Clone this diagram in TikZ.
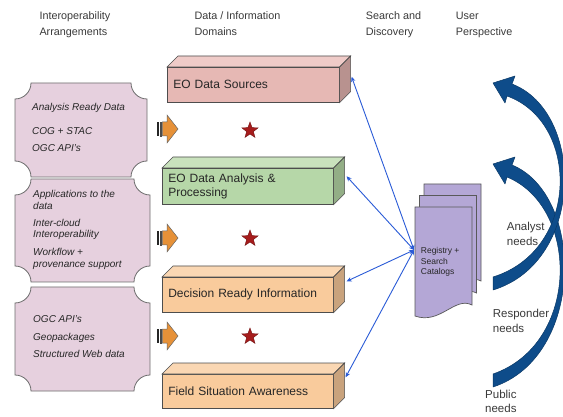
\documentclass[tikz,border=0pt]{standalone}
\usepackage{fontspec}
\setmainfont{Liberation Sans}
\usetikzlibrary{arrows.meta,shapes.geometric,calc}
\definecolor{edge}{HTML}{4D4D4D}
\definecolor{plaquefill}{HTML}{E6D0DE}
\definecolor{plaqueedge}{HTML}{6E6E6E}
\definecolor{pinkF}{HTML}{E6B8B4}
\definecolor{pinkT}{HTML}{EFCBC8}
\definecolor{pinkS}{HTML}{B8928F}
\definecolor{greenF}{HTML}{B6D7A8}
\definecolor{greenT}{HTML}{C9E2BD}
\definecolor{greenS}{HTML}{93AE86}
\definecolor{peachF}{HTML}{F9CB9C}
\definecolor{peachT}{HTML}{FAD7B3}
\definecolor{peachS}{HTML}{C9A37D}
\definecolor{orangeA}{HTML}{E69138}
\definecolor{starred}{HTML}{A61C1C}
\definecolor{docfill}{HTML}{B4A7D6}
\definecolor{conn}{HTML}{2A5BD7}
\definecolor{navy}{HTML}{0E4C8A}
\definecolor{txt}{HTML}{3A3A3A}
\newcommand\plaque[4]{%
 \filldraw[plq] ({#1+16},#2) -- ({#3-16},#2)
  .. controls ({#3-16},{#2+8.8}) and ({#3-8.8},{#2+16}) .. (#3,{#2+16})
  -- (#3,{#4-16})
  .. controls ({#3-8.8},{#4-16}) and ({#3-16},{#4-8.8}) .. ({#3-16},#4)
  -- ({#1+16},#4)
  .. controls ({#1+16},{#4-8.8}) and ({#1+8.8},{#4-16}) .. (#1,{#4-16})
  -- (#1,{#2+16})
  .. controls ({#1+8.8},{#2+16}) and ({#1+16},{#2+8.8}) .. ({#1+16},#2) -- cycle;}
\newcommand\cubefaces[3]{%
 \filldraw[draw=edge, line width=0.6pt, fill=#2] (#1.north west) -- ++(11,-11) -- ($(#1.north east)+(11,-11)$) -- (#1.north east) -- cycle;
 \filldraw[draw=edge, line width=0.6pt, fill=#3] (#1.north east) -- ++(11,-11) -- ($(#1.south east)+(11,-11)$) -- (#1.south east) -- cycle;}
\newcommand\docshape[4]{%
 \filldraw[docst] (#1,#2) -- (#3,#2) -- (#3,#4) .. controls ({#3-17},{#4-9}) and ({#1+25},{#4+20}) .. (#1,{#4+11}) -- cycle;}
\tikzset{
 hdr/.style={anchor=west, align=left, inner sep=0pt, text=txt, font=\fontsize{10.8}{16}\selectfont},
 plq/.style={fill=plaquefill, draw=plaqueedge, line width=0.8pt},
 plqtext/.style={anchor=west, align=left, inner sep=0pt, text=black!85, font=\fontsize{10}{17.4}\selectfont\itshape},
 plqtight/.style={plqtext, font=\fontsize{10}{11.5}\selectfont\itshape},
 dbox/.style={draw=edge, line width=0.6pt, inner xsep=6pt, inner ysep=0pt, align=left, anchor=north west, text=black!85, font=\fontsize{12}{14.2}\selectfont},
 docst/.style={fill=docfill, draw=black!65, line width=0.7pt},
 connline/.style={draw=conn, line width=0.9pt, {Stealth[length=5pt,width=4.5pt]}-{Stealth[length=5pt,width=4.5pt]}},
 redstar/.style={star, star points=5, star point ratio=2.4, fill=starred, draw=starred!70!black, line width=0.4pt, minimum size=17pt, inner sep=0pt},
 crescent/.style={fill=navy, draw=navy!75!black, line width=0.5pt, line join=round},
 needlabel/.style={anchor=west, align=left, inner sep=0pt, text=txt, font=\fontsize{11.5}{15}\selectfont},
 stripearrow/.pic={
  \fill[black!85] (0,-7) rectangle (2.2,7);
  \filldraw[fill=orangeA, draw=black!70, line width=0.4pt] (3,-7) rectangle (4.6,7);
  \filldraw[fill=orangeA, draw=black!60, line width=0.5pt] (5.4,-7) -- (10,-7) -- (10,-14) -- (21,0) -- (10,14) -- (10,7) -- (5.4,7) -- cycle;
 }
}
\begin{document}
\begin{tikzpicture}[x=1pt,y=-1pt]
\useasboundingbox (0,0) rectangle (563,417);
\clip (0,0) rectangle (563,417);
\fill[white] (0,0) rectangle (563,417);

% headers
\node[hdr] (hA) at (39.3,24.7) {Interoperability\\Arrangements};
\node[hdr] (hB) at (194.3,24) {Data / Information\\Domains};
\node[hdr] (hC) at (365.7,24.7) {Search and\\Discovery};
\node[hdr] (hD) at (455.7,24.7) {User\\Perspective};

% left plaques
\plaque{15}{83}{147}{177}
\plaque{15}{179}{150}{282}
\plaque{15}{287}{150}{391}
\node[plqtext] (p1a) at (32,107.5) {Analysis Ready Data};
\node[plqtext] (p1b) at (32,139.5) {COG + STAC\\OGC API’s};
\node[plqtight] (p2a) at (33,199.8) {Applications to the\\data};
\node[plqtight] (p2b) at (33,229.5) {Inter-cloud\\Interoperability};
\node[plqtight] (p2c) at (33,259) {Workflow +\\provenance support};
\node[plqtext] (p3a) at (33,336.8) {OGC API’s\\Geopackages\\Structured Web data};

% striped arrows
\pic (oa1) at (157,129) {stripearrow};
\pic (oa2) at (157,238) {stripearrow};
\pic (oa3) at (157,336) {stripearrow};

% stars
\node[redstar] (s1) at (250,130.5) {};
\node[redstar] (s2) at (250,238.5) {};
\node[redstar] (s3) at (250,336.5) {};

% domain boxes
\node[dbox, fill=pinkF, text width=160pt, minimum height=35pt] (src) at (167,67) {EO Data Sources};
\cubefaces{src}{pinkT}{pinkS}
\node[dbox, fill=greenF, text width=159pt, minimum height=36pt] (ana) at (162,168) {EO Data Analysis \&\\Processing};
\cubefaces{ana}{greenT}{greenS}
\node[dbox, fill=peachF, text width=159pt, minimum height=35pt] (dec) at (162,277) {Decision Ready Information};
\cubefaces{dec}{peachT}{peachS}
\node[dbox, fill=peachF, text width=159pt, minimum height=34pt] (fsa) at (162,374) {Field Situation Awareness};
\cubefaces{fsa}{peachT}{peachS}

% registry documents
\docshape{424}{184}{481}{281}
\docshape{419.5}{195.5}{476.5}{293}
\docshape{415}{207}{472}{305}
\node[anchor=west, align=left, inner sep=0pt, text=black!85, font=\fontsize{8.5}{10.4}\selectfont] (reg) at (420.7,262) {Registry +\\Search\\Catalogs};
\coordinate (regpt) at (414,250);

% connectors
\draw[connline] (regpt) -- ($(src.east)+(12,-8)$);
\draw[connline] (regpt) -- ($(ana.east)+(13,-10)$);
\draw[connline] (regpt) -- ($(dec.east)+(13,-13.5)$);
\draw[connline] (regpt) -- ($(fsa.east)+(12,-14)$);

% user perspective arrows (crescent shaped)
\filldraw[crescent] (493,387) .. controls (585,357) and (585,195) .. (512,165)
  -- (515,157) -- (493,164) -- (505,184) -- (507,177)
  .. controls (580,207) and (580,344) .. (493,374) -- cycle;
\filldraw[crescent] (493,290) .. controls (585,262) and (585,112) .. (512,84)
  -- (515,76) -- (493,83) -- (505,103) -- (507,96)
  .. controls (580,122) and (580,250) .. (493,277) -- cycle;

\node[needlabel] (nA) at (506.7,233.8) {Analyst\\needs};
\node[needlabel] (nR) at (492.7,320.5) {Responder\\needs};
\node[needlabel, font=\fontsize{11.5}{14}\selectfont] (nP) at (485,401.5) {Public\\needs};
\end{tikzpicture}
\end{document}
